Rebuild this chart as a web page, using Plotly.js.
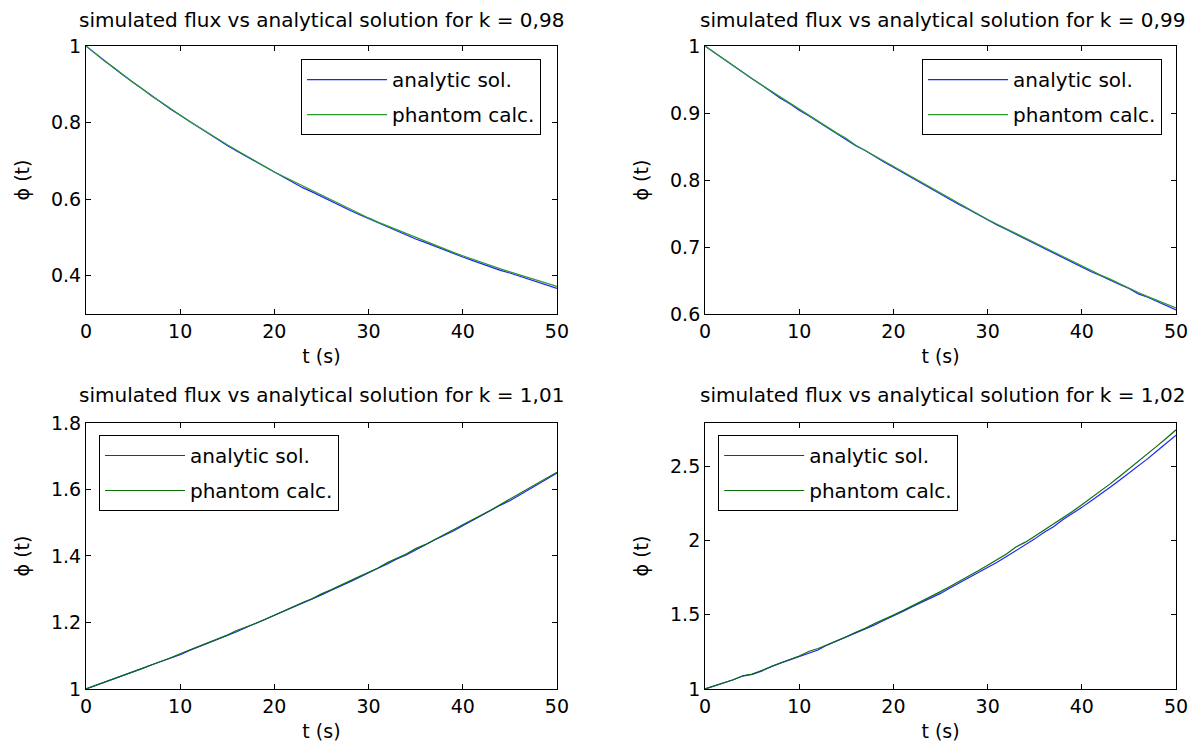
<!DOCTYPE html>
<html>
<head>
<meta charset="utf-8">
<script src="https://cdn.plot.ly/plotly-3.0.1.min.js"></script>
<style>html,body{margin:0;padding:0;background:#fff}#chart{width:1197px;height:751px}</style>
</head>
<body>
<div id="chart"></div>
<script>
// time axis (s)
const t = [0,1,2,3,4,5,6,7,8,9,10,11,12,13,14,15,16,17,18,19,20,21,22,23,24,25,26,27,28,29,30,31,32,33,34,35,36,37,38,39,40,41,42,43,44,45,46,47,48,49,50];

const kLabels = ["0,98", "0,99", "1,01", "1,02"];
const seriesNames = ["analytic sol.", "phantom calc."];

// k = 0,98
const analytic098 = [1.000,0.980,0.961,0.942,0.923,0.905,0.887,0.869,0.851,0.835,0.819,0.803,0.787,0.771,0.756,0.740,0.726,0.712,0.698,0.684,0.670,0.657,0.642,0.630,0.619,0.607,0.593,0.582,0.571,0.560,0.549,0.538,0.527,0.517,0.506,0.496,0.487,0.477,0.468,0.458,0.449,0.440,0.431,0.423,0.414,0.407,0.399,0.390,0.382,0.375,0.367];
const phantom098  = [1.000,0.980,0.960,0.943,0.923,0.905,0.888,0.869,0.853,0.836,0.819,0.803,0.788,0.772,0.757,0.742,0.728,0.713,0.699,0.685,0.671,0.659,0.646,0.633,0.621,0.609,0.597,0.585,0.573,0.562,0.551,0.540,0.530,0.519,0.509,0.499,0.490,0.480,0.471,0.461,0.452,0.443,0.435,0.426,0.418,0.410,0.402,0.394,0.386,0.379,0.372];

// k = 0,99
const analytic099 = [1.000,0.990,0.980,0.970,0.961,0.951,0.942,0.932,0.922,0.914,0.904,0.896,0.887,0.878,0.869,0.861,0.851,0.844,0.835,0.827,0.819,0.811,0.802,0.795,0.787,0.779,0.770,0.763,0.756,0.748,0.740,0.733,0.726,0.719,0.712,0.704,0.698,0.691,0.683,0.677,0.670,0.663,0.657,0.650,0.644,0.638,0.630,0.625,0.619,0.612,0.606];
const phantom099  = [1.000,0.990,0.980,0.971,0.961,0.951,0.942,0.933,0.923,0.915,0.905,0.897,0.887,0.879,0.870,0.862,0.852,0.844,0.836,0.828,0.820,0.812,0.804,0.796,0.788,0.780,0.772,0.764,0.757,0.749,0.741,0.734,0.727,0.720,0.713,0.706,0.699,0.692,0.685,0.678,0.671,0.665,0.658,0.652,0.645,0.639,0.632,0.626,0.620,0.614,0.609];

// k = 1,01
const analytic101 = [1.000,1.010,1.020,1.030,1.041,1.051,1.062,1.073,1.083,1.094,1.103,1.116,1.127,1.139,1.150,1.161,1.172,1.185,1.197,1.209,1.221,1.234,1.246,1.259,1.271,1.283,1.296,1.310,1.322,1.335,1.350,1.363,1.376,1.391,1.403,1.419,1.433,1.448,1.461,1.475,1.491,1.507,1.522,1.537,1.553,1.566,1.583,1.600,1.616,1.632,1.649];
const phantom101  = [1.000,1.010,1.020,1.030,1.041,1.051,1.062,1.073,1.083,1.094,1.106,1.117,1.128,1.139,1.150,1.162,1.176,1.186,1.197,1.209,1.222,1.235,1.249,1.260,1.271,1.286,1.298,1.312,1.324,1.338,1.351,1.364,1.380,1.392,1.406,1.422,1.434,1.449,1.465,1.479,1.494,1.508,1.523,1.538,1.555,1.571,1.588,1.603,1.619,1.635,1.652];

// k = 1,02
const analytic102 = [1.000,1.020,1.041,1.062,1.087,1.098,1.120,1.150,1.174,1.197,1.221,1.240,1.262,1.297,1.323,1.350,1.377,1.405,1.431,1.462,1.490,1.522,1.553,1.584,1.616,1.643,1.680,1.714,1.748,1.782,1.818,1.852,1.891,1.930,1.970,2.010,2.055,2.092,2.140,2.180,2.222,2.266,2.310,2.358,2.405,2.452,2.500,2.550,2.603,2.655,2.708];
const phantom102  = [1.000,1.021,1.042,1.062,1.089,1.100,1.124,1.151,1.175,1.198,1.222,1.252,1.272,1.298,1.324,1.351,1.382,1.408,1.440,1.467,1.497,1.527,1.559,1.588,1.620,1.655,1.690,1.724,1.758,1.795,1.832,1.869,1.908,1.955,1.988,2.027,2.068,2.108,2.155,2.195,2.240,2.285,2.332,2.380,2.430,2.480,2.531,2.583,2.636,2.689,2.744];

const yRanges = [[0.3,1],[0.6,1],[1,1.8],[1,2.79]];
const yTicks = [[0.4,0.6,0.8,1],[0.6,0.7,0.8,0.9,1],[1,1.2,1.4,1.6,1.8],[1,1.5,2,2.5]];
const yTickText = [["0.4","0.6","0.8","1"],["0.6","0.7","0.8","0.9","1"],["1","1.2","1.4","1.6","1.8"],["1","1.5","2","2.5"]];
const xTicks = [0,10,20,30,40,50];

const analyticSets = [analytic098, analytic099, analytic101, analytic102];
const phantomSets = [phantom098, phantom099, phantom101, phantom102];

const blue = '#2020ff';
const greens = ['#2a9a2a','#2a9a2a','#0a6e0a','#0a6e0a'];

const font = 'DejaVu Sans, Liberation Sans, sans-serif';
const xDomains = [[0.0718,0.4653],[0.589,0.9825],[0.0718,0.4653],[0.589,0.9825]];
const yDomains = [[0.5819,0.9387],[0.5819,0.9387],[0.0826,0.4368],[0.0826,0.4368]];
const legendPos = [[0.2515,0.9214],[0.7703,0.9214],[0.0827,0.4208],[0.600,0.4208]];
const titleX = [0.269,0.787,0.269,0.787];
const titleY = [0.9734,0.9734,0.4740,0.4740];

const data = [];
const layout = {
  width:1197, height:751,
  margin:{l:0,r:0,t:0,b:0},
  paper_bgcolor:'#fff', plot_bgcolor:'#fff',
  font:{family:font, size:19, color:'#000'},
  showlegend:true,
  annotations:[]
};

for (let i=0;i<4;i++){
  const n = i===0 ? '' : String(i+1);
  const lg = i===0 ? 'legend' : 'legend'+(i+1);
  data.push({x:t, y:analyticSets[i], type:'scatter', mode:'lines', name:seriesNames[0],
    line:{color:blue, width:1.2}, xaxis:'x'+n, yaxis:'y'+n, legend:lg, legendgroup:'a'+i});
  data.push({x:t, y:phantomSets[i], type:'scatter', mode:'lines', name:seriesNames[1],
    line:{color:greens[i], width:1.2}, xaxis:'x'+n, yaxis:'y'+n, legend:lg, legendgroup:'p'+i});

  layout['xaxis'+n] = {
    domain:xDomains[i], range:[0,50], anchor:'y'+n,
    tickvals:xTicks, ticks:'inside', ticklen:5, tickcolor:'#000',
    showline:true, linecolor:'#000', linewidth:1, mirror:'ticks',
    showgrid:false, zeroline:false,
    tickfont:{size:19, family:font},
    title:{text:'t (s)', font:{size:19, family:font}, standoff:8}
  };
  layout['yaxis'+n] = {
    domain:yDomains[i], range:yRanges[i], anchor:'x'+n,
    tickvals:yTicks[i], ticktext:yTickText[i], ticks:'inside', ticklen:5, tickcolor:'#000',
    showline:true, linecolor:'#000', linewidth:1, mirror:'ticks',
    showgrid:false, zeroline:false,
    tickfont:{size:19, family:font},
    title:{text:'ϕ (t)', font:{size:19, family:font}, standoff:16}
  };
  layout[lg] = {
    x:legendPos[i][0], y:legendPos[i][1], xanchor:'left', yanchor:'top',
    bgcolor:'#fff', bordercolor:'#000', borderwidth:1,
    font:{size:20, family:font}, itemwidth:80, tracegroupgap:6
  };
  layout.annotations.push({
    text:'simulated flux vs analytical solution for k = '+kLabels[i],
    xref:'paper', yref:'paper', x:titleX[i], y:titleY[i],
    xanchor:'center', yanchor:'middle', showarrow:false,
    font:{size:20, family:font}
  });
}

Plotly.newPlot('chart', data, layout, {displayModeBar:false, staticPlot:true});
</script>
</body>
</html>
